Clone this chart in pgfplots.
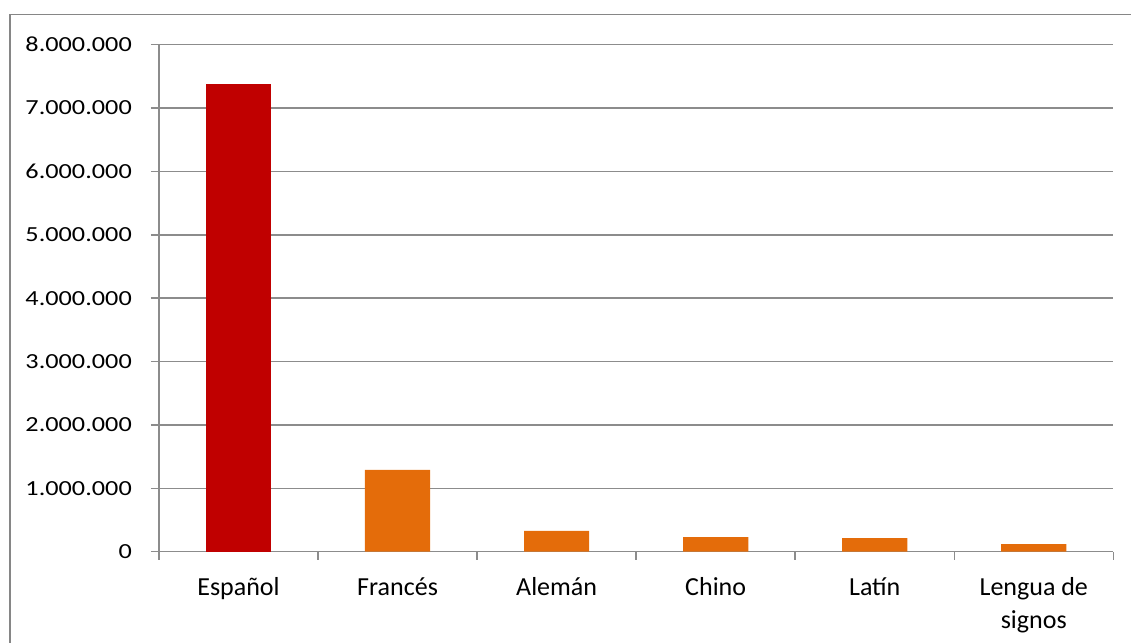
\documentclass[border=0pt]{standalone}
\usepackage{fontspec}
\setmainfont{Carlito}
\newfontfamily\tickfont[FakeStretch=1.22]{Carlito}
\usepackage{pgfplots}
\pgfplotsset{compat=1.18}
\definecolor{barred}{HTML}{C00000}
\definecolor{barorange}{HTML}{E46C0A}
\definecolor{gridgray}{HTML}{8C8C8C}
\definecolor{framegray}{HTML}{868686}
\begin{document}
\begin{tikzpicture}
\path[use as bounding box] (-159bp,-91.3bp) rectangle (972bp,551.7bp);
\draw[framegray, line width=1.5bp] (-149bp,-95bp) -- (-149bp,537.2bp) -- (980bp,537.2bp);
\begin{axis}[
  at={(0,0)}, anchor=south west,
  scale only axis,
  width=954.3bp, height=507bp,
  xmin=-0.5, xmax=5.5,
  ymin=0, ymax=8000000,
  ytick={0,1000000,2000000,3000000,4000000,5000000,6000000,7000000,8000000},
  scaled y ticks=false,
  yticklabel style={font=\fontsize{21.5bp}{25bp}\tickfont, anchor=east, inner sep=0pt, xshift=-19bp,
    /pgf/number format/fixed, /pgf/number format/1000 sep={.}, /pgf/number format/assume math mode=true},
  xtick={0,1,2,3,4,5},
  xticklabels={Español,Francés,Alemán,Chino,Latín,{Lengua de\\signos}},
  x tick label style={font=\fontsize{26bp}{33bp}\selectfont, align=center, anchor=north, inner sep=0pt, yshift=-18bp},
  minor xtick={-0.5,0.5,1.5,2.5,3.5,4.5,5.5},
  major x tick style={draw=none},
  minor x tick style={gridgray, line width=1.5bp},
  y tick style={gridgray, line width=1.5bp},
  tick align=outside,
  major tick length=8bp, minor tick length=8bp,
  axis x line*=bottom, axis y line*=left,
  axis line style={gridgray, line width=1.5bp},
  ymajorgrids,
  major grid style={gridgray, line width=1.5bp},
  ybar, bar width=0.41, bar shift=0pt,
]
\addplot[fill=barred, draw=none] coordinates {(0,7380000)};
\addplot[fill=barorange, draw=none] coordinates {(1,1290000) (2,330000) (3,230000) (4,215000) (5,120000)};
\end{axis}
\end{tikzpicture}
\end{document}
